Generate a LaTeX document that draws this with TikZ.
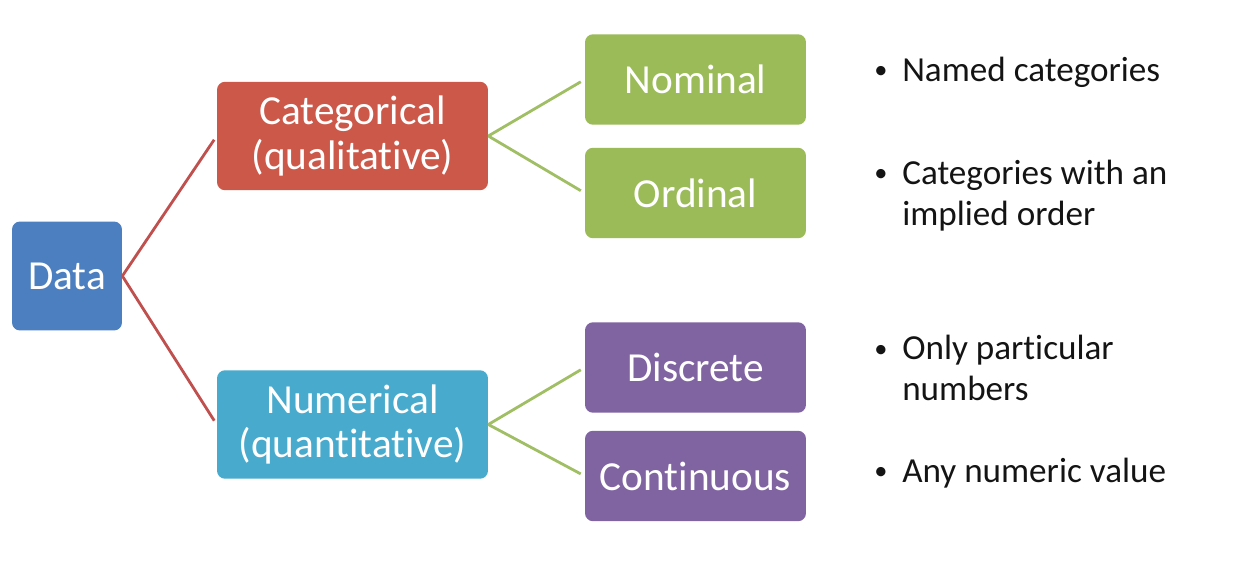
\documentclass[tikz,border=0pt]{standalone}
\usepackage{fontspec}
\setmainfont{Carlito}[Ligatures={NoCommon}]
\usepackage{tikz}
\usetikzlibrary{calc,positioning}
\usepackage{xcolor}
\definecolor{datablue}{RGB}{76,127,192}
\definecolor{catred}{RGB}{204,88,74}
\definecolor{numcyan}{RGB}{72,170,204}
\definecolor{leafgreen}{RGB}{155,187,89}
\definecolor{leafpurple}{RGB}{128,100,162}
\definecolor{linkred}{RGB}{192,80,77}
\definecolor{linkgreen}{RGB}{160,190,100}
\definecolor{bullettext}{RGB}{20,20,20}
\newcommand{\notebullet}{\makebox[15.9pt][l]{\raisebox{1.5pt}{\fontsize{15}{15}\selectfont\textbullet}}}

\begin{document}
\begin{tikzpicture}[x=0.02cm,y=-0.02cm]
  \tikzset{
    box/.style={rounded corners=0.16cm,inner sep=0pt,text=white,align=center,
      font=\fontsize{23.5}{25.5}\selectfont},
    root/.style={box,fill=datablue,minimum width=2.2cm,minimum height=2.18cm},
    mid/.style={box,minimum width=5.42cm,minimum height=2.17cm},
    leaf/.style={box,minimum width=4.42cm,minimum height=1.81cm},
    link/.style={line width=1.6pt,shorten >=0.09cm},
    note/.style={anchor=west,inner sep=0pt,text=bullettext,
      font=\fontsize{20}{23.3}\selectfont},
  }
  \useasboundingbox (0,0) rectangle (1242,561);

  \node[root] (data) at (67,276) {Data};
  \node[mid,fill=catred] (cat) at (352.5,136) {Categorical\\(qualitative)};
  \node[mid,fill=numcyan] (num) at (352.5,424.5) {Numerical\\(quantitative)};

  \node[leaf,fill=leafgreen] (nom) at (695.5,79.5) {Nominal};
  \node[leaf,fill=leafgreen] (ord) at (695.5,193) {Ordinal};
  \node[leaf,fill=leafpurple] (disc) at (695.5,367.5) {Discrete};
  \node[leaf,fill=leafpurple] (cont) at (695.5,476) {Continuous};

  \draw[link,draw=linkred] (data.east) -- (cat.west);
  \draw[link,draw=linkred] (data.east) -- (num.west);
  \draw[link,draw=linkgreen] (cat.east) -- (nom.west);
  \draw[link,draw=linkgreen] (cat.east) -- (ord.west);
  \draw[link,draw=linkgreen] (num.east) -- (disc.west);
  \draw[link,draw=linkgreen] (num.east) -- (cont.west);

  % notes beside the leaves
  \node[note] (nomnote) at (874,73)
    {\begin{tabular}{@{}l@{}l@{}}\notebullet&Named categories\end{tabular}};
  \node[note] (ordnote) at (874,196.5)
    {\begin{tabular}{@{}l@{}l@{}}\notebullet&Categories with an\\&implied order\end{tabular}};
  \node[note] (discnote) at (874,372)
    {\begin{tabular}{@{}l@{}l@{}}\notebullet&Only particular\\&numbers\end{tabular}};
  \node[note] (contnote) at (874,474)
    {\begin{tabular}{@{}l@{}l@{}}\notebullet&Any numeric value\end{tabular}};
\end{tikzpicture}
\end{document}
